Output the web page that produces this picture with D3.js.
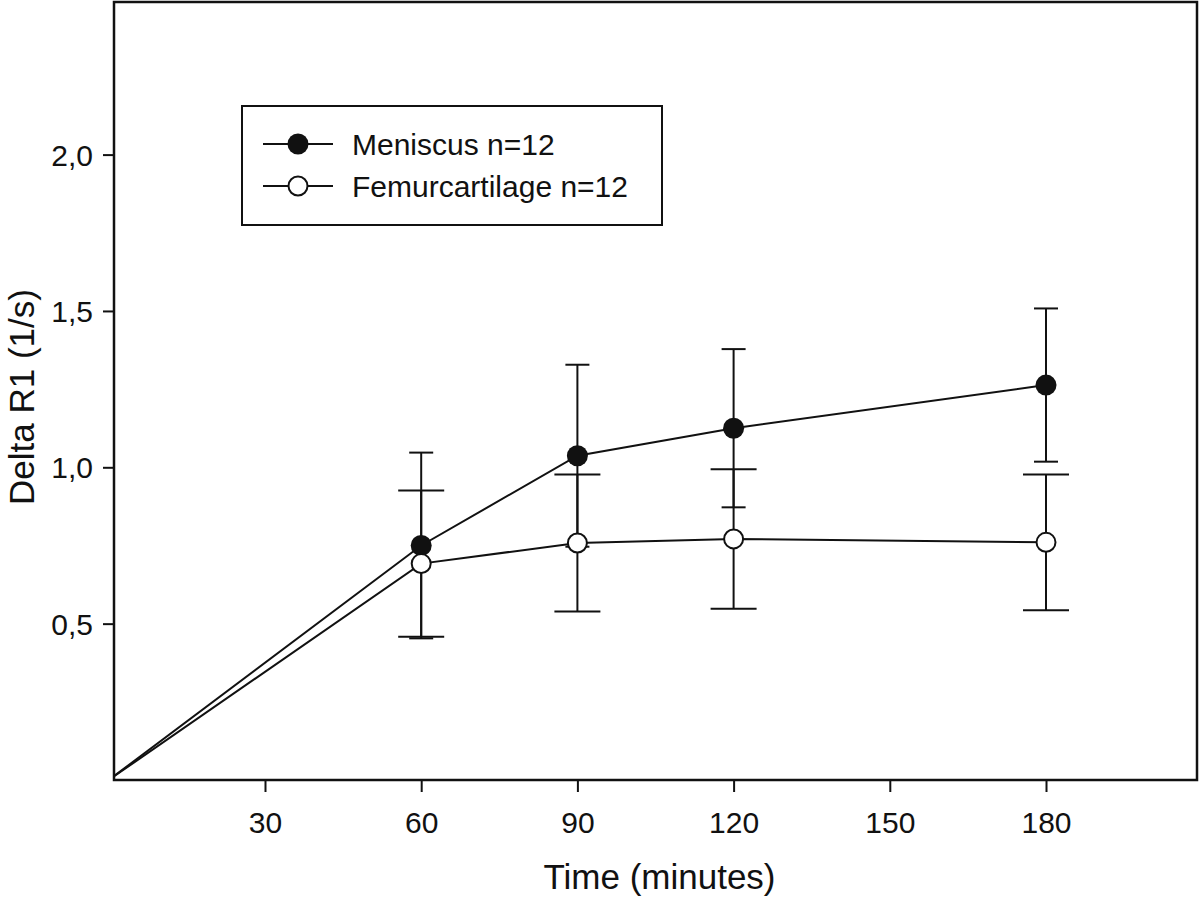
<!DOCTYPE html>
<html>
<head>
<meta charset="utf-8">
<script src="https://cdn.jsdelivr.net/npm/d3@7"></script>
<style>
  html, body { margin: 0; padding: 0; background: #fff; }
  svg { display: block; font-family: "Liberation Sans", Arial, sans-serif; }
</style>
</head>
<body>
<svg id="chart" width="1200" height="900"></svg>
<script>
// ---- data ----
const times = [0, 60, 90, 120, 180];
const meniscus = [0, 0.75, 1.037, 1.125, 1.263];
const meniscusErr = [0, 0.297, 0.291, 0.253, 0.245];
const femur = [0, 0.692, 0.758, 0.771, 0.760];
const femurErr = [0, 0.234, 0.219, 0.223, 0.217];
const xTicks = [30, 60, 90, 120, 150, 180];
const yTicks = [0.5, 1.0, 1.5, 2.0];
const seriesNames = ["Meniscus n=12", "Femurcartilage n=12"];
const xTitle = "Time (minutes)";
const yTitle = "Delta R1 (1/s)";

// ---- layout ----
const L = 114, R = 1197, T = 2, B = 780;
const svg = d3.select("#chart");
const x = d3.scaleLinear().domain([1, 209]).range([L, R]);
const y = d3.scaleLinear().domain([0, 2.488]).range([B, T]);
const fmt = d => d3.format(".1f")(d).replace(".", ",");

svg.append("defs").append("clipPath").attr("id", "clip")
  .append("rect").attr("x", L).attr("y", T).attr("width", R - L).attr("height", B - T);

// axes
const xAxis = svg.append("g").attr("transform", `translate(0,${B})`)
  .call(d3.axisBottom(x).tickValues(xTicks).tickSize(12).tickSizeOuter(0).tickPadding(20));
const yAxis = svg.append("g").attr("transform", `translate(${L},0)`)
  .call(d3.axisLeft(y).tickValues(yTicks).tickFormat(fmt).tickSize(11).tickSizeOuter(0).tickPadding(10));
[xAxis, yAxis].forEach(g => {
  g.select(".domain").remove();
  g.selectAll(".tick line").attr("stroke", "#111").attr("stroke-width", 2);
  g.selectAll(".tick text").attr("fill", "#111").style("font-size", "30px")
    .style("font-family", "'Liberation Sans', Arial, sans-serif");
});
xAxis.selectAll(".tick text").attr("dy", "0.71em");
yAxis.selectAll(".tick text").attr("dy", "0.35em");

// plot frame
svg.append("rect").attr("x", L).attr("y", T).attr("width", R - L).attr("height", B - T)
  .attr("fill", "none").attr("stroke", "#111").attr("stroke-width", 2.5);

// lines
const plot = svg.append("g").attr("clip-path", "url(#clip)");
const line = d3.line().x(d => x(d[0])).y(d => y(d[1]));
const mData = times.map((t, i) => [t, meniscus[i], meniscusErr[i]]);
const fData = times.map((t, i) => [t, femur[i], femurErr[i]]);
plot.append("path").attr("d", line(mData)).attr("fill", "none").attr("stroke", "#111").attr("stroke-width", 2);
plot.append("path").attr("d", line(fData)).attr("fill", "none").attr("stroke", "#111").attr("stroke-width", 2);

// error bars
function errBars(data, capW) {
  const g = plot.append("g").attr("stroke", "#111").attr("stroke-width", 2);
  data.filter(d => d[0] > 0).forEach(d => {
    const cx = x(d[0]);
    g.append("line").attr("x1", cx).attr("x2", cx).attr("y1", y(d[1] - d[2])).attr("y2", y(d[1] + d[2]));
    [d[1] - d[2], d[1] + d[2]].forEach(v => {
      g.append("line").attr("x1", cx - capW / 2).attr("x2", cx + capW / 2).attr("y1", y(v)).attr("y2", y(v));
    });
  });
}
errBars(mData, 24);
errBars(fData, 46);

// markers
plot.append("g").selectAll("circle").data(mData.filter(d => d[0] > 0)).join("circle")
  .attr("cx", d => x(d[0])).attr("cy", d => y(d[1])).attr("r", 10.5).attr("fill", "#111");
plot.append("g").selectAll("circle").data(fData.filter(d => d[0] > 0)).join("circle")
  .attr("cx", d => x(d[0])).attr("cy", d => y(d[1])).attr("r", 9.5)
  .attr("fill", "#fff").attr("stroke", "#111").attr("stroke-width", 2);

// axis titles
svg.append("text").attr("x", (L + R) / 2 + 4).attr("y", 889).attr("text-anchor", "middle")
  .style("font-size", "35px").attr("fill", "#111").text(xTitle);
svg.append("text").attr("transform", `translate(34,397) rotate(-90)`).attr("text-anchor", "middle")
  .style("font-size", "35px").attr("fill", "#111").text(yTitle);

// legend
const lg = svg.append("g");
lg.append("rect").attr("x", 242).attr("y", 106).attr("width", 420).attr("height", 119)
  .attr("fill", "#fff").attr("stroke", "#111").attr("stroke-width", 2);
const rows = [144, 186];
seriesNames.forEach((name, i) => {
  const ry = rows[i];
  lg.append("line").attr("x1", 263).attr("x2", 333).attr("y1", ry).attr("y2", ry)
    .attr("stroke", "#111").attr("stroke-width", 2);
  if (i === 0) {
    lg.append("circle").attr("cx", 298).attr("cy", ry).attr("r", 10.5).attr("fill", "#111");
  } else {
    lg.append("circle").attr("cx", 298).attr("cy", ry).attr("r", 9.5).attr("fill", "#fff")
      .attr("stroke", "#111").attr("stroke-width", 2);
  }
  lg.append("text").attr("x", 352).attr("y", ry + 10.5).style("font-size", "30px")
    .attr("fill", "#111").text(name);
});
</script>
</body>
</html>
